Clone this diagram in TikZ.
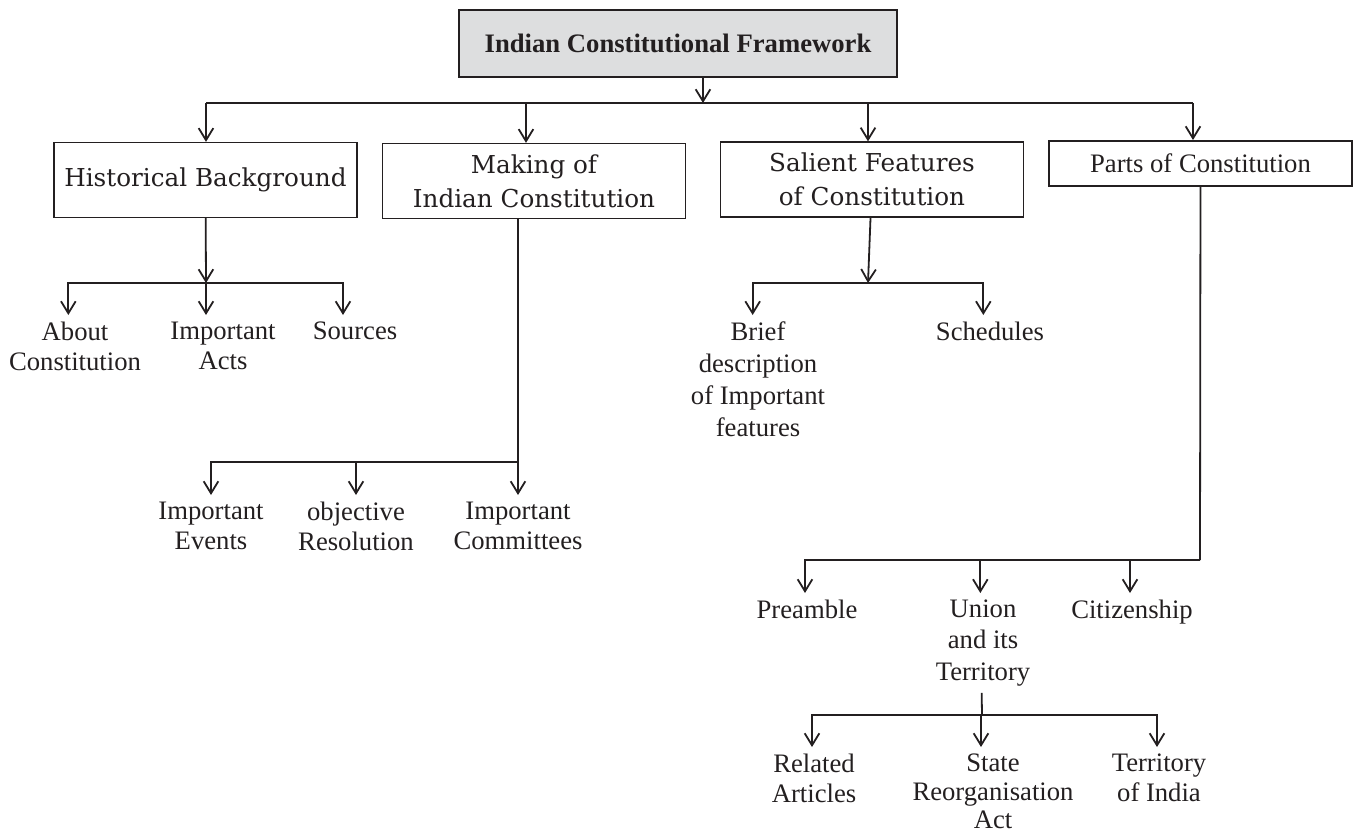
\documentclass[tikz,border=0pt]{standalone}
\usepackage{xcolor}
\usepackage{fontspec}
\setmainfont{Liberation Serif}
\newfontfamily\bookfont{DejaVu Serif}
\usepackage{tikz}
\usetikzlibrary{arrows.meta}
\definecolor{ink}{RGB}{35,31,32}
\definecolor{headgray}{RGB}{221,222,223}

\begin{document}
\begin{tikzpicture}[
    x=0.75pt, y=-0.75pt,
    head/.style={rectangle, draw=ink, fill=headgray, line width=1.2pt, minimum width=328.5pt, minimum height=50pt, text=ink, font=\bfseries\fontsize{20}{24}\selectfont},
    box/.style={rectangle, draw=ink, line width=1.2pt, align=center, inner sep=0pt, minimum width=227pt, minimum height=56pt, text=ink, font=\bookfont\fontsize{18.5}{25.5}\selectfont},
    leaf/.style={align=center, anchor=north, inner sep=5pt, text=ink, font=\fontsize{20}{22.5}\selectfont},
    arrow/.style={-{Straight Barb[length=9pt,width=11pt]}, draw=ink, line width=1.35pt},
    link/.style={draw=ink, line width=1.35pt}
]
    \useasboundingbox (0,0) rectangle (1353,835);

    % Top
    \node[head] (framework) at (678,43.5) {Indian Constitutional Framework};
    \coordinate (topbus) at (703,103);
    \coordinate (b1) at (206,103);
    \coordinate (b2) at (526,103);
    \coordinate (b3) at (868,103);
    \coordinate (b4) at (1193,103);

    % Second level
    \node[box] (hist) at (205.5,180) {Historical Background};
    \node[box] (making) at (534,181) {Making of\\Indian Constitution};
    \node[box] (salient) at (872,179.5) {Salient Features\\of Constitution};
    \node[box, font=\fontsize{20}{24}\selectfont, minimum height=34pt] (parts) at (1200.5,163.5) {Parts of Constitution};

    % Historical Background
    \coordinate (hbbus) at (206,283);
    \node[leaf] (about) at (75,315) {About\\Constitution};
    \node[leaf] (acts) at (223,315) {Important\\Acts};
    \node[leaf] (sources) at (355,315) {Sources};

    % Making of Indian Constitution
    \coordinate (mkbus) at (518,462);
    \node[leaf] (events) at (211,495) {Important\\Events};
    \node[leaf] (resolution) at (356,495) {objective\\Resolution};
    \node[leaf] (committees) at (518,495) {Important\\Committees};

    % Salient Features
    \coordinate (sfbus) at (868,283);
    \node[leaf, font=\fontsize{20}{24}\selectfont] (brief) at (758,315) {Brief\\description\\of Important\\features};
    \node[leaf] (schedules) at (990,315) {Schedules};

    % Parts of Constitution
    \coordinate (ptbus) at (1200,560);
    \node[leaf] (preamble) at (807,593) {Preamble};
    \node[leaf, font=\fontsize{20}{23.5}\selectfont] (union) at (983,593) {Union\\and its\\Territory};
    \node[leaf] (citizenship) at (1132,593) {Citizenship};

    % Union and its Territory
    \coordinate (unbus) at (982,715);
    \node[leaf] (related) at (814,747) {Related\\Articles};
    \node[leaf, font=\fontsize{20}{21.5}\selectfont] (state) at (993,747) {State\\Reorganisation\\Act};
    \node[leaf] (territory) at (1159,747) {Territory\\of India};

    % Arrows
    \draw[arrow] (topbus |- framework.south) -- (topbus);
    \draw[link] (b1) -- (b4);
    \draw[arrow] (b1) -- (b1 |- hist.north);
    \draw[arrow] (b2) -- (b2 |- making.north);
    \draw[arrow] (b3) -- (b3 |- salient.north);
    \draw[arrow] (b4) -- (b4 |- parts.north);

    \draw[arrow] (hist) -- (hbbus);
    \draw[arrow] (hbbus) -| ([xshift=-5pt]about.north);
    \draw[arrow] (hbbus) -- (hbbus |- acts.north);
    \draw[arrow] (hbbus) -| ([xshift=-9pt]sources.north);

    \draw[link] (mkbus |- making.south) -- (mkbus);
    \draw[arrow] (mkbus) -| (events.north);
    \draw[arrow] (mkbus) -| (resolution.north);
    \draw[arrow] (mkbus) -- (committees.north);

    \draw[arrow] (salient) -- (sfbus);
    \draw[arrow] (sfbus) -| ([xshift=-4pt]brief.north);
    \draw[arrow] (sfbus) -| ([xshift=-5pt]schedules.north);

    \draw[link] (parts) -- (ptbus);
    \draw[arrow] (ptbus) -| ([xshift=-1.5pt]preamble.north);
    \draw[arrow] (ptbus) -| ([xshift=-2pt]union.north);
    \draw[arrow] (ptbus) -| ([xshift=-1.5pt]citizenship.north);

    \draw[link] ([xshift=-1pt]union.south) -- (unbus);
    \draw[arrow] (unbus) -| ([xshift=-1.5pt]related.north);
    \draw[arrow] (unbus) -| ([xshift=-9pt]state.north);
    \draw[arrow] (unbus) -| ([xshift=-1.5pt]territory.north);
\end{tikzpicture}
\end{document}
